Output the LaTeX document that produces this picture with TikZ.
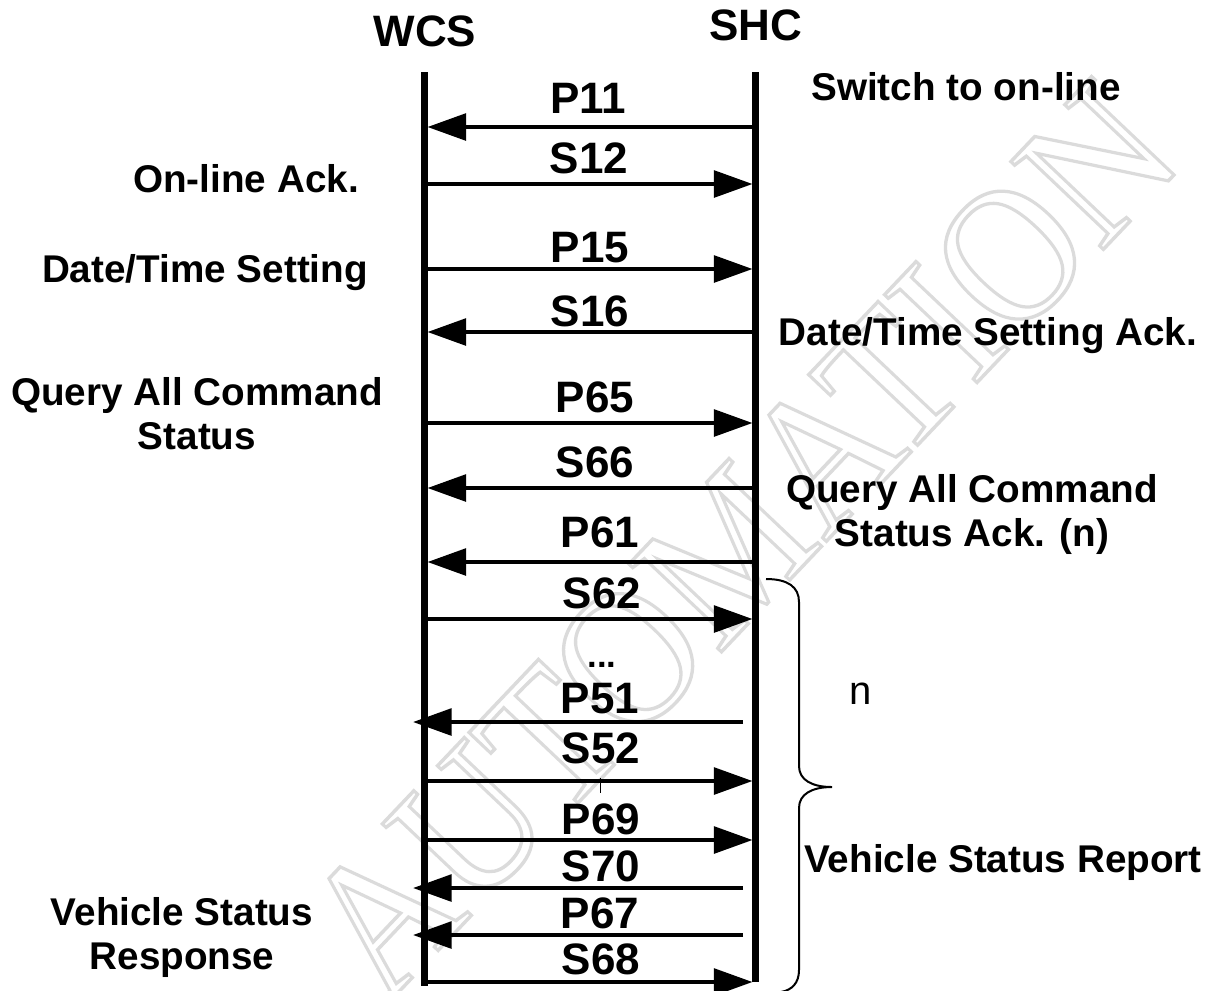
\documentclass[tikz,border=0pt]{standalone}
\usepackage{fontspec}
\setmainfont{Liberation Sans}
\newfontfamily\wmfont{Liberation Serif}
\usetikzlibrary{arrows.meta}
\definecolor{wmgray}{RGB}{220,220,220}
\newcommand\outlineon{\special{pdf:literal direct 1 Tr 2.6 w 0.86 G 0.86 g}}
\newcommand\outlineoff{\special{pdf:literal direct 0 Tr 0 G 0 g}}
\begin{document}
\begin{tikzpicture}[x=0.75pt,y=-0.75pt,
  lifeline/.style={line width=5.25pt},
  msg/.style={line width=3pt,-{Triangle[length=29pt,width=20pt]}},
  lbl/.style={font=\fontsize{33}{36}\selectfont\bfseries,anchor=base,inner sep=0pt},
  head/.style={font=\fontsize{33}{36}\selectfont\bfseries,anchor=base,inner sep=0pt},
  side/.style={font=\fontsize{29}{33}\selectfont\bfseries,anchor=base,inner sep=0pt,align=center},
  plain/.style={font=\fontsize{30}{33}\selectfont,anchor=base,inner sep=0pt},
  wm/.style={font=\wmfont\fontsize{146}{146}\selectfont,text=wmgray,inner sep=0pt,rotate=46.5,xscale=0.9},
  brace/.style={line width=1.5pt},
  tick/.style={line width=0.75pt}]
\useasboundingbox (0,0) rectangle (1230,990);
% watermark (outlined letters)
\begin{scope}
\node[wm] (wm) at (740,540) {\outlineon AUTOMATION\outlineoff};
\end{scope}
% lifelines
\coordinate (Ltop) at (424,72);
\coordinate (Lbot) at (424,986);
\coordinate (Rtop) at (755.5,72);
\coordinate (Rbot) at (755.5,982);
\draw[lifeline] (Ltop) -- (Lbot);
\draw[lifeline] (Rtop) -- (Rbot);
\node[head] (wcs) at (425,46) {WCS};
\node[head] (shc) at (756,40) {SHC};
% messages
\newcommand\msgR[4]{%
  \coordinate (#1a) at (424,#4); \coordinate (#1b) at (752.5,#4);
  \draw[msg] (#1a) -- (#1b);
  \node[lbl] (#1) at (#2,#3) {#1};}
\newcommand\msgL[4]{%
  \coordinate (#1a) at (755.5,#4); \coordinate (#1b) at (427.5,#4);
  \draw[msg] (#1a) -- (#1b);
  \node[lbl] (#1) at (#2,#3) {#1};}
\newcommand\msgLs[4]{%
  \coordinate (#1a) at (743,#4); \coordinate (#1b) at (413,#4);
  \draw[msg] (#1a) -- (#1b);
  \node[lbl] (#1) at (#2,#3) {#1};}
\msgL{P11}{588}{113}{127}
\msgR{S12}{589}{173}{184}
\msgR{P15}{590}{262}{269}
\msgL{S16}{590}{326}{332}
\msgR{P65}{595}{412}{423}
\msgL{S66}{595}{477}{488}
\msgL{P61}{600}{547}{562}
\msgR{S62}{602}{608}{619}
\node[plain,font=\fontsize{26}{30}\selectfont\bfseries] (dots) at (602,667) {...};
\msgLs{P51}{600}{713}{722}
\msgR{S52}{601}{763}{781}
\msgR{P69}{601}{834}{840}
\msgLs{S70}{601}{881}{888}
\msgLs{P67}{600}{928}{935}
\msgR{S68}{601}{974}{982}
\coordinate (tk1) at (600,778);
\coordinate (tk2) at (600,793);
\draw[tick] (tk1) -- (tk2);
% side labels (base = last line)
\node[side] (sw) at (966,100) {Switch to on-line};
\node[side] (ola) at (246,192) {On-line Ack.};
\node[side] (dts) at (205,282) {Date/Time Setting};
\node[side] (qacs) at (197,449) {Query All Command\\Status};
\node[side] (dtsa) at (988,345) {Date/Time Setting Ack.};
\node[side] (qacsa) at (972,546) {Query All Command\\Status Ack. (n)};
\node[plain] (n) at (861,704) {n};
\node[side] (vsr) at (1003,872) {Vehicle Status Report};
\node[side] (vsresp) at (182,969) {Vehicle Status\\Response};
% brace
\coordinate (bTop) at (766,579);
\coordinate (bTip) at (832,787);
\coordinate (bBot) at (781,992);
\draw[brace] (bTop) .. controls (788,579) and (799,587) .. (799,602)
  -- (799,766) .. controls (799,780) and (812,787) .. (bTip)
  .. controls (812,787) and (799,794) .. (799,808)
  -- (799,970) .. controls (799,983) and (792,990) .. (bBot);
\end{tikzpicture}
\end{document}
